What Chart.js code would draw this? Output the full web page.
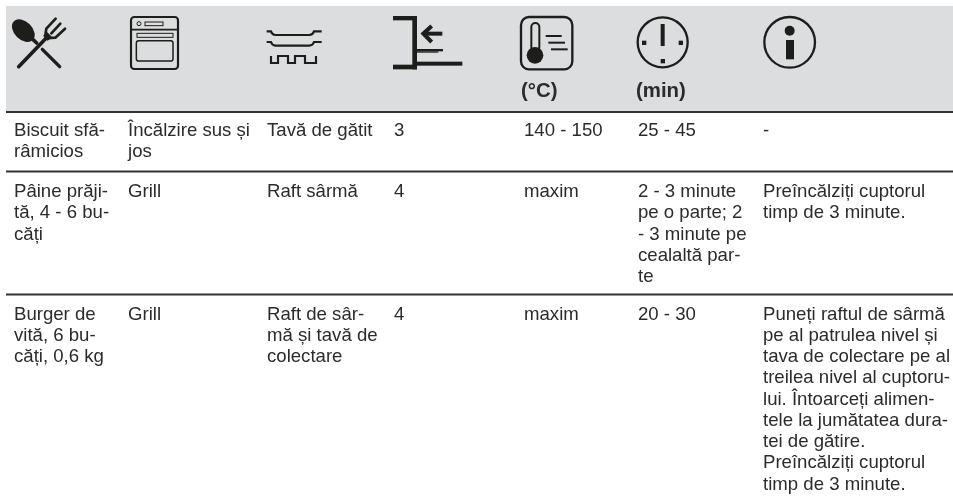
<!DOCTYPE html>
<html lang="ro">
<head>
<meta charset="utf-8">
<title>Tabel de gătire</title>
<script src="https://cdn.jsdelivr.net/npm/chart.js@4/dist/chart.umd.min.js"></script>
<style>
  html, body { margin: 0; padding: 0; background: #fff; }
  canvas { display: block; }
</style>
</head>
<body>
<canvas id="chart" width="953" height="499"></canvas>
<script>
// Tabelul e desenat pe doua scale liniare ascunse (x = coloane, y = randuri).

const INK = "#1d1d1b";
const TEXT = "#2b2b2b";
const BAND = "#dcddde";
const LINE_H = 21.25;

// valorile din tabel, cate un sir pe coloana, "\n" = rand nou in celula
const aliment = ["Biscuit sfă-\nrâmicios", "Pâine prăji-\ntă, 4 - 6 bu-\ncăți", "Burger de\nvită, 6 bu-\ncăți, 0,6 kg"];
const modGatire = ["Încălzire sus și\njos", "Grill", "Grill"];
const accesoriu = ["Tavă de gătit", "Raft sârmă", "Raft de sâr-\nmă și tavă de\ncolectare"];
const nivel = ["3", "4", "4"];
const temperatura = ["140 - 150", "maxim", "maxim"];
const durata = ["25 - 45", "2 - 3 minute\npe o parte; 2\n- 3 minute pe\ncealaltă par-\nte", "20 - 30"];
const informatii = [
  "-",
  "Preîncălziți cuptorul\ntimp de 3 minute.",
  "Puneți raftul de sârmă\npe al patrulea nivel și\ntava de colectare pe al\ntreilea nivel al cuptoru-\nlui. Întoarceți alimen-\ntele la jumătatea dura-\ntei de gătire.\nPreîncălziți cuptorul\ntimp de 3 minute."
];
const unitati = ["(°C)", "(min)"];

const coloane = [aliment, modGatire, accesoriu, nivel, temperatura, durata, informatii];

// asezare
const COL_X = [14, 128, 267, 394, 524, 638, 763];
const UNIT_X = [521, 636];
const ROW_BASE = [136, 197, 319.7];
const RULES = [171.5, 294.5];
const BAND_LEFT = 6, BAND_TOP = 6, BAND_BOTTOM = 112, RIGHT = 953;

const cells = [];
coloane.forEach((col, c) => col.forEach((text, r) => {
  cells.push({ x: COL_X[c], y: ROW_BASE[r], text });
}));
const unitCells = unitati.map((text, i) => ({ x: UNIT_X[i], y: 97, text }));

function line(ctx, pts, w) {
  ctx.beginPath();
  ctx.lineWidth = w;
  pts.forEach((p, i) => (i ? ctx.lineTo(p[0], p[1]) : ctx.moveTo(p[0], p[1])));
  ctx.stroke();
}

function rrect(ctx, x, y, w, h, r, lw) {
  ctx.beginPath();
  ctx.lineWidth = lw;
  ctx.roundRect(x, y, w, h, r);
  ctx.stroke();
}

// pictogramele din antet: ox, oy = coltul desenului, unitati de 1/3 px
const icons = [
  {
    ox: 6, oy: 10,
    draw(ctx) {
      ctx.save();
      ctx.translate(52, 62);
      ctx.rotate(Math.PI / 4);
      ctx.beginPath();
      ctx.ellipse(0, 0, 40, 27, 0, 0, Math.PI * 2);
      ctx.fill();
      ctx.restore();
      ctx.lineCap = "round";
      line(ctx, [[78, 86], [92, 99]], 11);
      line(ctx, [[109, 118], [161, 170]], 10);
      line(ctx, [[38, 170], [120, 85]], 11);
      ctx.lineJoin = "round";
      line(ctx, [[149, 26], [121, 56], [119, 68], [135, 84], [148, 83], [177, 56]], 8);
      line(ctx, [[163, 41], [136, 70]], 8);
      ctx.beginPath();
      ctx.moveTo(119, 62); ctx.lineTo(140, 84); ctx.lineTo(124, 92); ctx.lineTo(112, 78);
      ctx.closePath();
      ctx.fill();
      ctx.lineJoin = "miter";
      ctx.lineCap = "butt";
    }
  },
  {
    ox: 130, oy: 16,
    draw(ctx) {
      rrect(ctx, 3, 3, 141, 156, 10, 6.5);
      line(ctx, [[3, 41], [144, 41]], 5);
      ctx.beginPath(); ctx.lineWidth = 3; ctx.arc(27, 23, 6, 0, Math.PI * 2); ctx.stroke();
      ctx.lineWidth = 3;
      ctx.strokeRect(45, 18, 54, 11);
      ctx.strokeRect(21, 52, 108, 12);
      rrect(ctx, 19, 74, 110, 61, 7, 4.5);
    }
  },
  {
    ox: 260, oy: 20,
    draw(ctx) {
      const pan = (y) => {
        ctx.beginPath();
        ctx.lineWidth = 6.5;
        ctx.moveTo(20, y);
        ctx.lineTo(33, y);
        ctx.quadraticCurveTo(37, y + 11, 46, y + 11);
        ctx.lineTo(148, y + 11);
        ctx.quadraticCurveTo(158, y + 11, 162, y);
        ctx.lineTo(185, y);
        ctx.stroke();
      };
      pan(34);
      pan(66);
      line(ctx, [[33, 108], [33, 129], [54, 129], [54, 108], [84, 108], [84, 129], [105, 129], [105, 108], [135, 108], [135, 129], [168, 129], [168, 108]], 6.5);
    }
  },
  {
    ox: 388, oy: 12,
    draw(ctx) {
      ctx.fillRect(15, 12, 72, 13);
      ctx.fillRect(73, 12, 14, 160);
      ctx.fillRect(15, 158, 72, 14);
      ctx.fillRect(87, 149, 136, 12);
      ctx.fillRect(87, 111, 78, 7);
      ctx.fillRect(87, 118, 64, 4);
      ctx.fillRect(112, 59, 51, 12);
      line(ctx, [[131, 42], [106, 65], [131, 90]], 12);
    }
  },
  {
    ox: 515, oy: 12,
    draw(ctx) {
      rrect(ctx, 18, 15, 154, 157, 24, 7);
      ctx.beginPath(); ctx.arc(60, 130, 25, 0, Math.PI * 2); ctx.fill();
      rrect(ctx, 49, 33, 24, 85, 12, 6);
      line(ctx, [[92, 72], [140, 72]], 6);
      line(ctx, [[100, 92], [150, 92]], 6);
      line(ctx, [[108, 112], [158, 112]], 6);
    }
  },
  {
    ox: 633, oy: 0,
    draw(ctx) {
      ctx.beginPath(); ctx.lineWidth = 7; ctx.arc(89, 127, 75, 0, Math.PI * 2); ctx.stroke();
      ctx.fillRect(83, 72, 12, 66);
      ctx.fillRect(27, 122, 13, 13);
      ctx.fillRect(137, 122, 13, 13);
      ctx.fillRect(83, 177, 13, 13);
    }
  },
  {
    ox: 633, oy: 0,
    draw(ctx) {
      ctx.beginPath(); ctx.lineWidth = 7; ctx.arc(470, 127, 76, 0, Math.PI * 2); ctx.stroke();
      ctx.beginPath(); ctx.arc(470, 92, 15, 0, Math.PI * 2); ctx.fill();
      ctx.fillRect(459, 120, 24, 58);
    }
  }
];

const tableText = {
  id: "tableText",
  afterDatasetsDraw(chart) {
    const { ctx, scales } = chart;
    ctx.save();
    ctx.textAlign = "left";
    ctx.textBaseline = "alphabetic";
    chart.data.datasets.forEach((ds, i) => {
      if (!ds.cellFont) return;
      ctx.font = ds.cellFont;
      ctx.fillStyle = TEXT;
      chart.getDatasetMeta(i).data.forEach((pt, k) => {
        ds.data[k].text.split("\n").forEach((t, n) => {
          ctx.fillText(t, pt.x, pt.y + n * LINE_H);
        });
      });
    });
    // pictograme
    ctx.strokeStyle = INK;
    ctx.fillStyle = INK;
    icons.forEach((ic) => {
      ctx.save();
      ctx.translate(scales.x.getPixelForValue(ic.ox), scales.y.getPixelForValue(ic.oy));
      ctx.scale(1 / 3, 1 / 3);
      ic.draw(ctx);
      ctx.restore();
    });
    ctx.restore();
  }
};

const ruleSets = RULES.map((y) => ({
  type: "line",
  data: [{ x: BAND_LEFT, y }, { x: RIGHT, y }],
  borderColor: "#333333",
  borderWidth: 1.8,
  pointRadius: 0
}));

new Chart(document.getElementById("chart"), {
  type: "scatter",
  data: {
    datasets: [
      {
        type: "line",
        label: "antet",
        data: [{ x: BAND_LEFT, y: BAND_BOTTOM }, { x: RIGHT, y: BAND_BOTTOM }],
        borderColor: "#333333",
        borderWidth: 1.8,
        pointRadius: 0,
        backgroundColor: BAND,
        fill: { target: { value: BAND_TOP } }
      },
      ...ruleSets,
      { label: "celule", data: cells, pointRadius: 0, cellFont: '18.6px "Liberation Sans"' },
      { label: "unitati", data: unitCells, pointRadius: 0, cellFont: 'bold 20.4px "Liberation Sans"' }
    ]
  },
  options: {
    responsive: false,
    animation: false,
    layout: { padding: 0 },
    plugins: { legend: { display: false }, tooltip: { enabled: false } },
    scales: {
      x: { type: "linear", display: false, min: 0, max: 953 },
      y: { type: "linear", display: false, min: 0, max: 499, reverse: true }
    }
  },
  plugins: [tableText]
});
</script>
</body>
</html>
